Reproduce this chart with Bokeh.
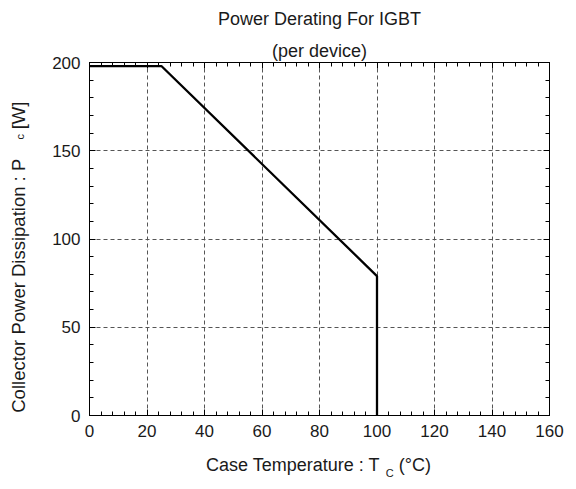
from bokeh.plotting import figure
from bokeh.models import (LinearAxis, Range1d, SingleIntervalTicker, FixedTicker,
                          CustomJSTickFormatter, ColumnDataSource, Title)
from bokeh.embed import file_html
from bokeh.resources import INLINE

# ---- data ----
temp_c = [0, 25, 100, 100]          # case temperature (degC)
power_w = [198, 198, 79, 0]          # collector power dissipation (W)
x_range = (0, 160)
y_range = (0, 200)
x_tick_step = 20
y_tick_step = 50

title_1 = "Power Derating For IGBT"
title_2 = "(per device)"
# axis titles, split where the subscript sits (text, position along the axis)
xlabel_parts = ["Case Temperature : T", "(°C)"]
xlabel_pos = [70.8, 113.2]
xlabel_sub = "C"
xlabel_sub_pos = 104.4
ylabel_parts = ["Collector Power Dissipation : P", "[W]"]
ylabel_pos = [73.5, 170]
ylabel_sub = "c"
ylabel_sub_pos = 158

FONT = "Liberation Sans"
TXT = "#1a1a1a"

p = figure(width=568, height=481, x_range=Range1d(*x_range), y_range=Range1d(*y_range),
           output_backend="svg", toolbar_location=None,
           min_border_left=89, min_border_right=19, min_border_top=62, min_border_bottom=66)
p.background_fill_color = "white"
p.border_fill_color = "white"
p.outline_line_color = "black"
p.outline_line_width = 1
p.title.visible = False

bottom_ax = p.below[0]
left_ax = p.left[0]
xt = SingleIntervalTicker(interval=x_tick_step, num_minor_ticks=5)
yt = SingleIntervalTicker(interval=y_tick_step, num_minor_ticks=5)
bottom_ax.ticker = xt
left_ax.ticker = yt

blank = CustomJSTickFormatter(code="return ''")
top_ax = LinearAxis(ticker=xt, formatter=blank, major_label_standoff=0,
                    major_label_text_font_size="1px")
right_ax = LinearAxis(ticker=yt, formatter=blank, major_label_standoff=0,
                      major_label_text_font_size="1px")
p.add_layout(top_ax, "above")
p.add_layout(right_ax, "right")

for ax in (bottom_ax, left_ax, top_ax, right_ax):
    ax.axis_line_color = "black"
    ax.major_tick_line_color = "black"
    ax.minor_tick_line_color = "black"
    ax.major_tick_out = 0
    ax.major_tick_in = 6
    ax.minor_tick_out = 0
    ax.minor_tick_in = 4
for ax in (bottom_ax, left_ax):
    ax.major_label_text_font = FONT
    ax.major_label_text_font_size = "17px"
    ax.major_label_text_color = TXT
    ax.major_label_standoff = 9


def text_axis(ticks, texts, size, standoff, vertical=False):
    ax = LinearAxis(ticker=FixedTicker(ticks=ticks, minor_ticks=[]),
                    major_label_overrides={t: s for t, s in zip(ticks, texts)},
                    major_label_text_font=FONT, major_label_text_font_size=size,
                    major_label_text_color=TXT, major_label_standoff=standoff,
                    axis_line_color=None, major_tick_line_color=None,
                    minor_tick_line_color=None, major_tick_in=0, major_tick_out=0,
                    minor_tick_in=0, minor_tick_out=0)
    if vertical:
        ax.major_label_orientation = "vertical"
    return ax


# x axis title (main text, then lowered subscript)
p.add_layout(text_axis(xlabel_pos, xlabel_parts, "18px", 15), "below")
p.add_layout(text_axis([xlabel_sub_pos], [xlabel_sub], "11px", -11), "below")
# y axis title (subscript is nearer the frame than the main text)
p.add_layout(text_axis([ylabel_sub_pos], [ylabel_sub], "11px", 23, vertical=True), "left")
p.add_layout(text_axis(ylabel_pos, ylabel_parts, "18.5px", -18, vertical=True), "left")

for g in (p.xgrid, p.ygrid):
    g.grid_line_color = "#555555"
    g.grid_line_dash = "4 3"
    g.grid_line_width = 1

src = ColumnDataSource(dict(x=temp_c, y=power_w))
p.line("x", "y", source=src, line_color="black", line_width=2.3)

# titles (stacked above the plot, inner first)
p.add_layout(Title(text=title_2, align="center", text_font=FONT, text_font_size="18px",
                   text_font_style="normal", text_color=TXT, standoff=4), "above")
p.add_layout(Title(text=title_1, align="center", text_font=FONT, text_font_size="18px",
                   text_font_style="normal", text_color=TXT, standoff=12,
                   vertical_align="top"), "above")

open("out.html", "w").write(file_html(p, INLINE))
